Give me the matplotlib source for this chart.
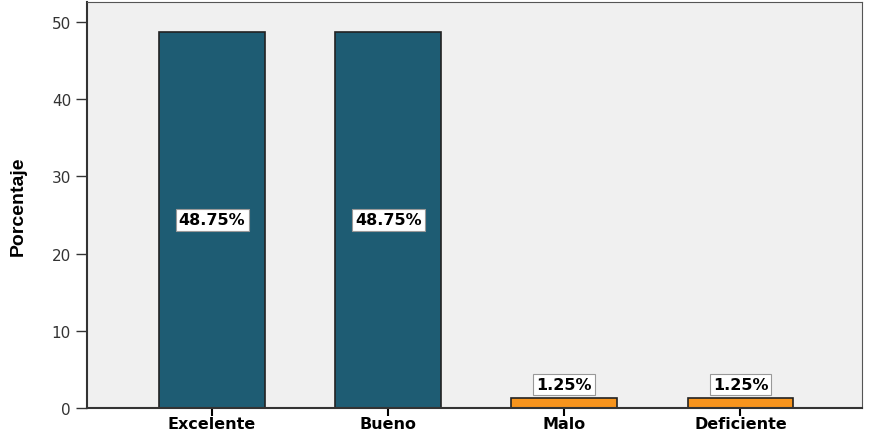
import matplotlib
matplotlib.use("Agg")
import matplotlib.pyplot as plt

categorias = ["Excelente", "Bueno", "Malo", "Deficiente"]
porcentajes = [48.75, 48.75, 1.25, 1.25]
etiquetas = ["48.75%", "48.75%", "1.25%", "1.25%"]
colores = ["#1e5c73", "#1e5c73", "#f7941d", "#f7941d"]

plt.rcParams['font.family'] = ['DejaVu Sans']

fig = plt.figure(figsize=(8.69, 4.35), dpi=100)
ax = fig.add_axes([87/869, 1 - 409/435, (862-87)/869, (409-3)/435])
ax.set_facecolor("#f0f0f0")

x = range(len(categorias))
ax.bar(x, porcentajes, width=0.6, color=colores, edgecolor="#222222", linewidth=1.2)

# etiquetas de valor
for i, (v, t) in enumerate(zip(porcentajes, etiquetas)):
    y = v / 2 if v > 10 else v + 1.8
    ax.text(i, y, t, ha="center", va="center", fontsize=11.5, fontweight="bold",
            bbox=dict(facecolor="white", edgecolor="#999999", boxstyle="square,pad=0.2", linewidth=0.8))

ax.set_xlim(-0.71, 3.69)
ax.set_ylim(0, 52.6)
ax.set_yticks([0, 10, 20, 30, 40, 50])
ax.set_xticks(list(x))
ax.set_xticklabels(categorias, fontweight="bold", fontsize=11.5)
ax.tick_params(axis="y", length=8, width=1, labelsize=11, colors="#333333")
ax.tick_params(axis="x", length=6, width=1.5, pad=0)
ax.set_ylabel("Porcentaje", fontweight="bold", fontsize=14, labelpad=18,
              family="Liberation Sans")

for s in ["left", "bottom"]:
    ax.spines[s].set_linewidth(1.5)
    ax.spines[s].set_color("#333333")
for s in ["top", "right"]:
    ax.spines[s].set_linewidth(0.8)
    ax.spines[s].set_color("#555555")

fig.savefig("out.png", dpi=100)
